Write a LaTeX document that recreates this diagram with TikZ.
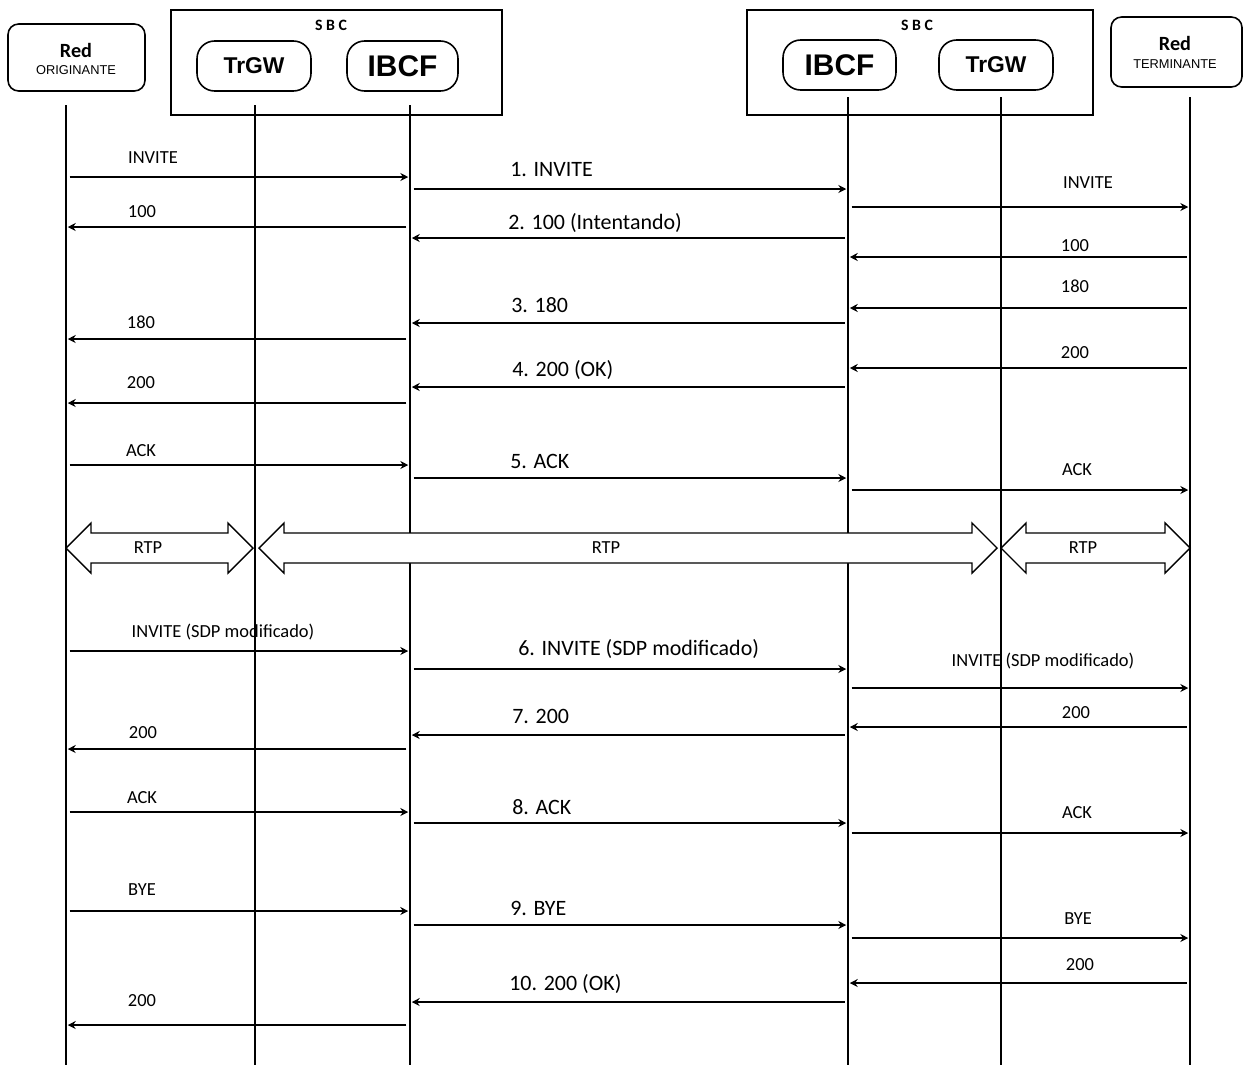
\documentclass[tikz,border=0pt]{standalone}
\usepackage{fontspec}
\setmainfont{Carlito}
\newfontfamily\arialfont{Liberation Sans}
\usetikzlibrary{arrows.meta,calc}

% wide RTP double arrow between two tips
\newcommand{\rtparrow}[2]{%
  \draw[rtp] (#1) -- ++(25,-25) -- ++(0,10) -- ($(#2)+(-25,-15)$) -- ++(0,-10)
    -- (#2) -- ++(-25,25) -- ++(0,-10) -- ($(#1)+(25,15)$) -- ++(0,10) -- cycle;}

\begin{document}
\begin{tikzpicture}[
  x=0.02cm,
  y=-0.02cm,
  every node/.style={font=\fontsize{10.5}{12}\selectfont, inner sep=0pt},
  netbox/.style={
    draw,
    line width=0.9pt,
    rounded corners=6pt
  },
  sbc/.style={draw, line width=0.9pt, minimum height=2.1cm},
  part/.style={netbox, rounded corners=10pt, minimum height=1cm},
  tag/.style={font=\arialfont\fontsize{7.3}{9}\selectfont},
  life/.style={line width=1.1pt},
  msg/.style={-{Stealth[length=4.5pt,width=4.5pt]}, line width=1pt, shorten <=2pt, shorten >=1pt},
  mid/.style={font=\fontsize{12.5}{14}\selectfont, anchor=west},
  rtp/.style={draw, line width=0.8pt, fill=white}
]
\fill[white] (0,0) rectangle (1243,1065);
\useasboundingbox (0,0) rectangle (1243,1065);

% heads
\node[netbox, minimum width=2.74cm, minimum height=1.34cm] (orig) at (76.5,57.5) {};
\node[font=\bfseries\fontsize{11.5}{13}\selectfont] (origred) at (76,50) {Red};
\node[tag] (origtag) at (76,70) {ORIGINANTE};

\node[sbc, minimum width=6.62cm] (sbcl) at (336.5,62.5) {};
\node[font=\bfseries\fontsize{9}{10}\selectfont] (sbcltag) at (331,25) {S B C};
\node[part, minimum width=2.28cm, font=\arialfont\bfseries\fontsize{13}{16}\selectfont] (trgwl) at (254,66) {TrGW};
\node[part, minimum width=2.22cm, font=\arialfont\bfseries\fontsize{17}{19}\selectfont] (ibcfl) at (402.5,66) {IBCF};

\node[sbc, minimum width=6.92cm] (sbcr) at (920,62.5) {};
\node[font=\bfseries\fontsize{9}{10}\selectfont] (sbcrtag) at (917,25) {S B C};
\node[part, minimum width=2.26cm, font=\arialfont\bfseries\fontsize{17}{19}\selectfont] (ibcfr) at (839.5,65) {IBCF};
\node[part, minimum width=2.28cm, font=\arialfont\bfseries\fontsize{13}{16}\selectfont] (trgwr) at (996,65) {TrGW};

\node[netbox, minimum width=2.62cm, minimum height=1.4cm] (term) at (1176.5,52) {};
\node[font=\bfseries\fontsize{11.5}{13}\selectfont] (termred) at (1175,43) {Red};
\node[tag] (termtag) at (1175,64) {TERMINANTE};

% lifelines
\coordinate (ro) at (66,105);
\coordinate (tgl) at (255,105);
\coordinate (ibl) at (410,105);
\coordinate (ibr) at (848,97);
\coordinate (tgr) at (1001,97);
\coordinate (rt) at (1190,97);
\draw[life] (ro) -- (ro |- 0,1065);
\draw[life] (tgl) -- (tgl |- 0,1065);
\draw[life] (ibl) -- (ibl |- 0,1065);
\draw[life] (ibr) -- (ibr |- 0,1065);
\draw[life] (tgr) -- (tgr |- 0,1065);
\draw[life] (rt) -- (rt |- 0,1065);

% originating side
\draw[msg] (ro |- 0,177) -- (ibl |- 0,177);
\node (o1) at (153,158) {INVITE};
\draw[msg] (ibl |- 0,227) -- (ro |- 0,227);
\node (o2) at (142,212) {100};
\draw[msg] (ibl |- 0,339) -- (ro |- 0,339);
\node (o3) at (141,322) {180};
\draw[msg] (ibl |- 0,403) -- (ro |- 0,403);
\node (o4) at (141,383) {200};
\draw[msg] (ro |- 0,465) -- (ibl |- 0,465);
\node (o5) at (141,451) {ACK};
\draw[msg] (ro |- 0,651) -- (ibl |- 0,651);
\node (o6) at (223,632) {INVITE (SDP modificado)};
\draw[msg] (ibl |- 0,749) -- (ro |- 0,749);
\node (o7) at (143,733) {200};
\draw[msg] (ro |- 0,812) -- (ibl |- 0,812);
\node (o8) at (142,798) {ACK};
\draw[msg] (ro |- 0,911) -- (ibl |- 0,911);
\node (o9) at (142,890) {BYE};
\draw[msg] (ibl |- 0,1025) -- (ro |- 0,1025);
\node (o10) at (142,1001) {200};

% between the two IBCF
\draw[msg] (ibl |- 0,189) -- (ibr |- 0,189);
\node[mid] (c1) at (510,170) {1. INVITE};
\draw[msg] (ibr |- 0,238) -- (ibl |- 0,238);
\node[mid] (c2) at (508,223) {2. 100 (Intentando)};
\draw[msg] (ibr |- 0,323) -- (ibl |- 0,323);
\node[mid] (c3) at (511,305) {3. 180};
\draw[msg] (ibr |- 0,387) -- (ibl |- 0,387);
\node[mid] (c4) at (512,370) {4. 200 (OK)};
\draw[msg] (ibl |- 0,478) -- (ibr |- 0,478);
\node[mid] (c5) at (510,461) {5. ACK};
\draw[msg] (ibl |- 0,669) -- (ibr |- 0,669);
\node[mid] (c6) at (518,649) {6. INVITE (SDP modificado)};
\draw[msg] (ibr |- 0,735) -- (ibl |- 0,735);
\node[mid] (c7) at (512,716) {7. 200};
\draw[msg] (ibl |- 0,823) -- (ibr |- 0,823);
\node[mid] (c8) at (512,807) {8. ACK};
\draw[msg] (ibl |- 0,925) -- (ibr |- 0,925);
\node[mid] (c9) at (510,908) {9. BYE};
\draw[msg] (ibr |- 0,1002) -- (ibl |- 0,1002);
\node[mid] (c10) at (509,984) {10. 200 (OK)};

% terminating side
\draw[msg] (ibr |- 0,207) -- (rt |- 0,207);
\node (t1) at (1088,183) {INVITE};
\draw[msg] (rt |- 0,257) -- (ibr |- 0,257);
\node (t2) at (1075,246) {100};
\draw[msg] (rt |- 0,308) -- (ibr |- 0,308);
\node (t3) at (1075,286) {180};
\draw[msg] (rt |- 0,368) -- (ibr |- 0,368);
\node (t4) at (1075,353) {200};
\draw[msg] (ibr |- 0,490) -- (rt |- 0,490);
\node (t5) at (1077,470) {ACK};
\draw[msg] (ibr |- 0,688) -- (rt |- 0,688);
\node (t6) at (1043,661) {INVITE (SDP modificado)};
\draw[msg] (rt |- 0,727) -- (ibr |- 0,727);
\node (t7) at (1076,713) {200};
\draw[msg] (ibr |- 0,833) -- (rt |- 0,833);
\node (t8) at (1077,813) {ACK};
\draw[msg] (ibr |- 0,938) -- (rt |- 0,938);
\node (t9) at (1078,919) {BYE};
\draw[msg] (rt |- 0,983) -- (ibr |- 0,983);
\node (t10) at (1080,965) {200};

% media
\coordinate (rtpa) at (ro |- 0,548);
\coordinate (rtpb) at ($(tgl |- 0,548)+(-2,0)$);
\coordinate (rtpc) at ($(tgl |- 0,548)+(4,0)$);
\coordinate (rtpd) at ($(tgr |- 0,548)+(-4,0)$);
\coordinate (rtpe) at (tgr |- 0,548);
\coordinate (rtpf) at (rt |- 0,548);
\rtparrow{rtpa}{rtpb}
\rtparrow{rtpc}{rtpd}
\rtparrow{rtpe}{rtpf}
\node (r1) at (148,548) {RTP};
\node (r2) at (606,548) {RTP};
\node (r3) at (1083,548) {RTP};
\end{tikzpicture}
\end{document}
